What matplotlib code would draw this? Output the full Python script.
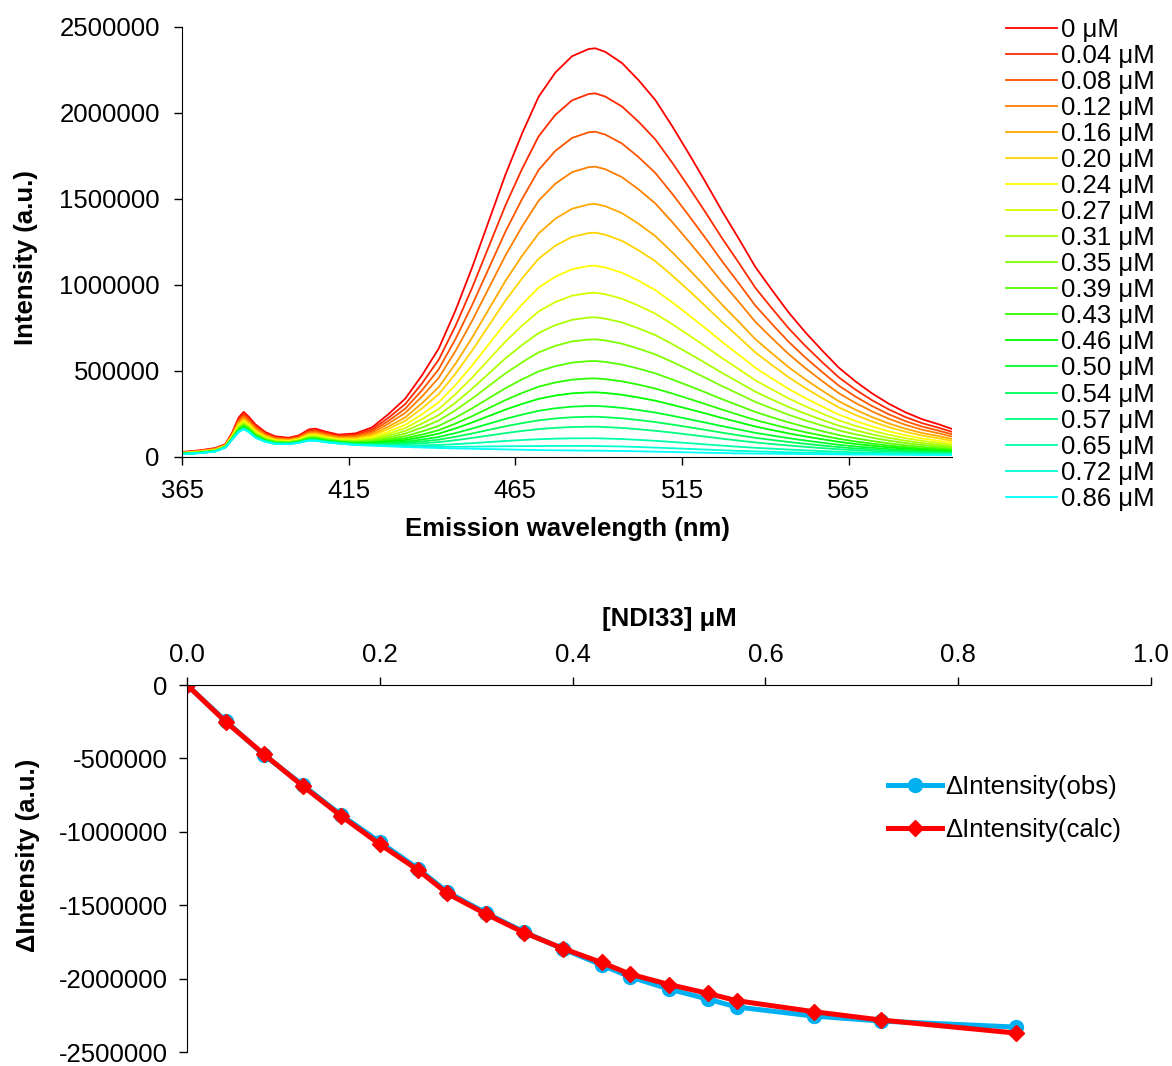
import numpy as np
import matplotlib
matplotlib.use("Agg")
import matplotlib.pyplot as plt
from matplotlib.colors import hsv_to_rgb
from matplotlib.ticker import FuncFormatter

plt.rcParams["font.family"] = ["Liberation Sans", "DejaVu Sans"]
plt.rcParams["font.size"] = 18.5

# titrace: koncentrace NDI33 (uM) a popisky legendy
conc = [0, 0.04, 0.08, 0.12, 0.16, 0.20, 0.24, 0.27, 0.31, 0.35,
        0.39, 0.43, 0.46, 0.50, 0.54, 0.57, 0.65, 0.72, 0.86]
conc_labels = ["0 μM", "0.04 μM", "0.08 μM", "0.12 μM", "0.16 μM", "0.20 μM",
               "0.24 μM", "0.27 μM", "0.31 μM", "0.35 μM", "0.39 μM", "0.43 μM",
               "0.46 μM", "0.50 μM", "0.54 μM", "0.57 μM", "0.65 μM", "0.72 μM",
               "0.86 μM"]

# emisni spektra (x1000 a.u.)
wavelength = [365, 370, 375, 378, 380, 382, 383.5, 385, 387, 390,
              393, 397, 400, 403, 405, 408, 412, 417,
              422, 427, 432, 437, 442, 447, 452, 457, 462, 467, 472, 477, 482, 487,
              489,
              492, 497, 502, 507, 512, 517, 522, 527, 532, 537, 542, 547, 552, 557,
              562, 567, 572, 577, 582, 587, 592,
              596]
background = [17, 22, 32, 55, 100, 145, 161, 145, 112, 88,
              76, 75, 82, 95, 95, 86, 78, 70,
              66, 62, 58, 55, 52, 50, 48, 46, 44, 42, 40, 39, 38, 37,
              37,
              36, 35, 33, 31, 29, 27, 25, 23, 21, 20, 19, 18, 17, 16,
              15, 14, 14, 13, 13, 12, 12,
              12]
emission = [12, 16, 20, 20, 40, 85, 101, 90, 78, 57,
            44, 37, 43, 65, 70, 62, 52, 67,
            106, 188, 282, 420, 578, 800, 1052, 1324, 1596, 1838, 2055, 2196, 2292, 2335,
            2339,
            2319, 2255, 2157, 2044, 1896, 1738, 1575, 1407, 1249, 1085, 951, 822, 708, 604,
            505, 426, 356, 297, 247, 208, 178,
            151]
# intenzita v maximu (489 nm) pro kazdou koncentraci
peak = [2376, 2114, 1891, 1688, 1471, 1304, 1112, 955, 812, 684,
        558, 457, 376, 297, 234, 176, 109, 64, 37]

# zmena intenzity - namerena a vypoctena
d_obs = [0, -245000, -477000, -681000, -886000, -1069000, -1253000, -1410000,
         -1553000, -1683000, -1798000, -1907000, -1989000, -2071000, -2139000,
         -2193000, -2255000, -2289000, -2330000]
d_calc = [0, -250000, -473000, -688000, -893000, -1085000, -1262000, -1420000,
          -1560000, -1688000, -1795000, -1890000, -1970000, -2040000, -2100000,
          -2150000, -2225000, -2282000, -2371000]

fig = plt.figure(figsize=(11.72, 10.66), dpi=100)

# --- horni graf: spektra ---
ax1 = fig.add_axes([0.1553, 0.5713, 0.657, 0.4034])
wl = np.array(wavelength)
bg = np.array(background) * 1000
em = np.array(emission) * 1000
n = len(conc)
for i in range(n):
    amp = (peak[i] - peak[-1]) / (peak[0] - peak[-1])
    col = hsv_to_rgb((0.5 * i / (n - 1), 1.0, 1.0))
    ax1.plot(wl, bg + amp * em, color=col, lw=1.3, label=conc_labels[i])

ax1.set_xlim(365, 596)
ax1.set_ylim(0, 2500000)
ax1.set_xticks([365, 415, 465, 515, 565])
ax1.set_yticks(np.arange(0, 2500001, 500000))
ax1.yaxis.set_major_formatter(FuncFormatter(lambda v, p: "%d" % v))
ax1.spines["top"].set_visible(False)
ax1.spines["right"].set_visible(False)
ax1.tick_params(direction="out", length=6, width=1)
ax1.tick_params(axis="x", pad=10)
ax1.tick_params(axis="y", pad=10)
ax1.set_xlabel("Emission wavelength (nm)", fontweight="bold", labelpad=10)
ax1.set_ylabel("Intensity (a.u.)", fontweight="bold")
ax1.yaxis.set_label_coords(-0.187, 0.463)
ax1.legend(loc="upper left", bbox_to_anchor=(0.8473, 0.9954),
           bbox_transform=fig.transFigure, frameon=False, borderpad=0,
           labelspacing=0.08, handlelength=2.0, handletextpad=0.15,
           fontsize=18.5)

# --- dolni graf: zmena intenzity ---
ax2 = fig.add_axes([0.1596, 0.0131, 0.8225, 0.3443])
ax2.plot(conc, d_obs, color="#00B0F0", lw=3.6, marker="o", ms=10,
         label="ΔIntensity(obs)")
ax2.plot(conc, d_calc, color="#FF0000", lw=3.6, marker="D", ms=8,
         label="ΔIntensity(calc)")
ax2.set_xlim(0, 1.0)
ax2.set_ylim(-2500000, 0)
ax2.set_xticks(np.arange(0, 1.01, 0.2))
ax2.set_yticks(np.arange(-2500000, 1, 500000))
ax2.xaxis.set_major_formatter(FuncFormatter(lambda v, p: "%.1f" % v))
ax2.yaxis.set_major_formatter(FuncFormatter(lambda v, p: "%d" % v))
ax2.xaxis.tick_top()
ax2.xaxis.set_label_position("top")
ax2.spines["bottom"].set_visible(False)
ax2.spines["right"].set_visible(False)
ax2.tick_params(direction="out", length=6, width=1)
ax2.tick_params(axis="x", pad=7)
ax2.tick_params(axis="y", pad=8)
ax2.set_xlabel("[NDI33] μM", fontweight="bold", labelpad=12)
ax2.set_ylabel("ΔIntensity (a.u.)", fontweight="bold")
ax2.yaxis.set_label_coords(-0.1525, 0.537)
ax2.legend(loc="upper left", bbox_to_anchor=(0.7466, 0.2852),
           bbox_transform=fig.transFigure, frameon=False, borderpad=0,
           labelspacing=0.76, handlelength=2.1, handletextpad=0.15,
           fontsize=18.5)

fig.savefig("out.png", dpi=100)
